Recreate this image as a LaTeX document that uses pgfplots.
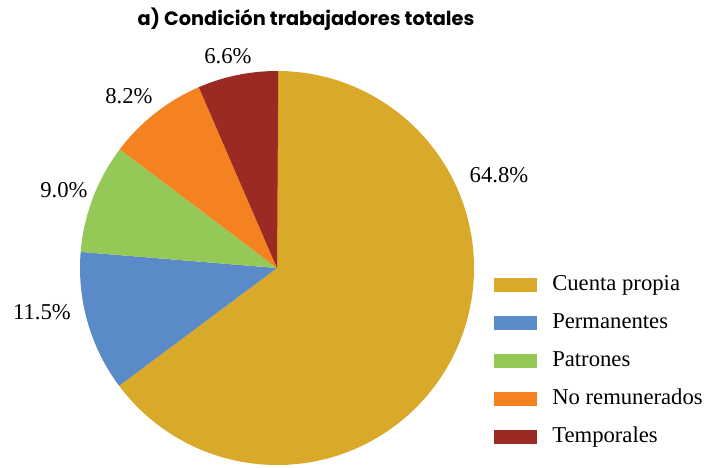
\documentclass[border=0pt]{standalone}
\usepackage{fontspec}
\setmainfont{Liberation Serif}
\newfontfamily\titlefont{Poppins}
\usepackage{pgfplots}
\usepackage{pgfplotstable}
\pgfplotsset{compat=1.18}

\definecolor{c0}{HTML}{D9AA2A}
\definecolor{c1}{HTML}{5A8AC7}
\definecolor{c2}{HTML}{94C857}
\definecolor{c3}{HTML}{F58220}
\definecolor{c4}{HTML}{9B2A22}
\newcommand\lbl{\fontsize{17}{20}\selectfont}

% share (%) and where each percentage label sits (px, y from bottom)
\pgfplotstableread[col sep=comma]{
name,value,lx,ly
Cuenta propia,64.8,499,292
Permanentes,11.5,42,155
Patrones,9.0,64,277
No remunerados,8.2,129,371
Temporales,6.6,228,411
}\piedata

\begin{document}
\begin{tikzpicture}
\begin{axis}[
    x=0.75pt, y=0.75pt,
    xmin=0, xmax=709, ymin=0, ymax=467,
    hide axis, clip=false,
    legend image code/.code={\fill[#1,draw=none] (0pt,-5.25pt) rectangle (32.25pt,5.25pt);},
    legend cell align=left,
    legend style={at={(axis cs:494,193)}, anchor=north west, draw=none, fill=none,
        inner sep=0pt, font=\lbl, row sep=12.5pt,
        nodes={inner sep=0pt, text height=12pt, text depth=4pt},
        /tikz/every odd column/.style={column sep=11.25pt}},
]
\path (axis cs:0,0) rectangle (axis cs:709,467);
\def\angA{90}
\pgfplotsforeachungrouped \i in {0,...,4}{%
  \pgfplotstablegetelem{\i}{value}\of\piedata \let\v\pgfplotsretval
  \pgfplotstablegetelem{\i}{lx}\of\piedata \let\lx\pgfplotsretval
  \pgfplotstablegetelem{\i}{ly}\of\piedata \let\ly\pgfplotsretval
  \pgfmathsetmacro\angB{\angA-3.6*\v}%
  \edef\temp{%
    \noexpand\fill[c\i] (axis cs:277,199) -- ++(\angA:147.75pt)
      arc[start angle=\angA, end angle=\angB, radius=147.75pt] -- cycle;
    \noexpand\node[font=\noexpand\lbl] at (axis cs:\lx,\ly)
      {\noexpand\pgfmathprintnumber[fixed,fixed zerofill,precision=1,assume math mode=true]{\v}\noexpand\%};
  }\temp
  \global\let\angA\angB
}
\node[font=\titlefont\bfseries\fontsize{14.5}{16}\selectfont] at (axis cs:306,448)
    {a) Condición trabajadores totales};
\addlegendimage{fill=c0}
\addlegendimage{fill=c1}
\addlegendimage{fill=c2}
\addlegendimage{fill=c3}
\addlegendimage{fill=c4}
\legend{Cuenta propia,Permanentes,Patrones,No remunerados,Temporales}
\end{axis}
\end{tikzpicture}
\end{document}
